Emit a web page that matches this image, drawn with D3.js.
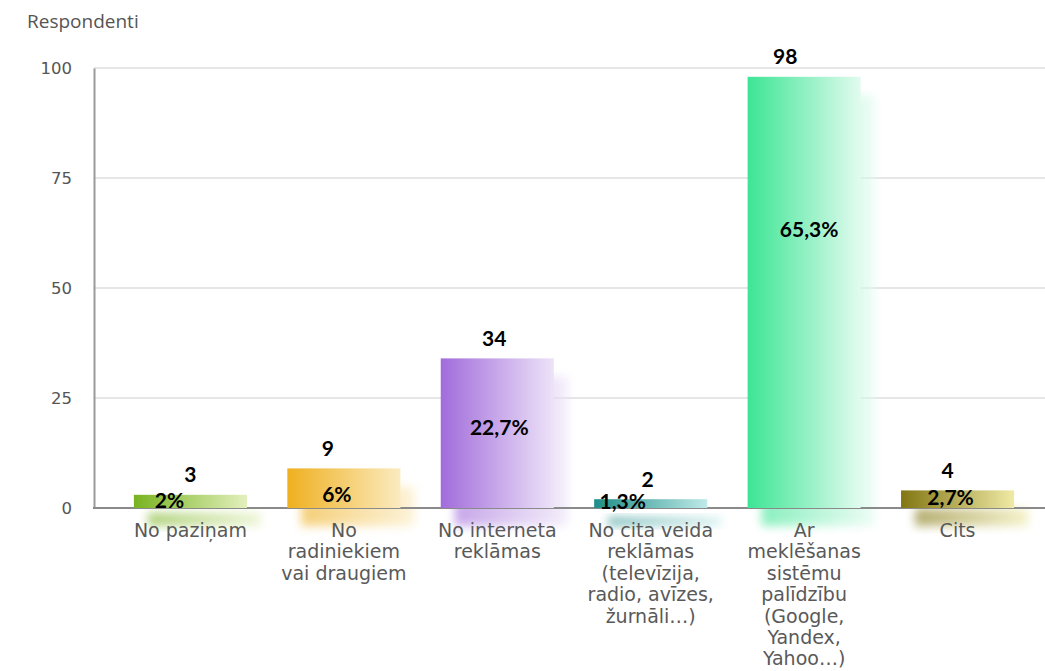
<!DOCTYPE html>
<html>
<head>
<meta charset="utf-8">
<script src="https://cdn.jsdelivr.net/npm/d3@7/dist/d3.min.js"></script>
<style>
  html, body { margin: 0; padding: 0; background: #ffffff; }
  svg { display: block; }
</style>
</head>
<body>
<svg id="chart" width="1045" height="671"></svg>
<script>
// Respondent answers: how did you find out about us
const categories = [
  "No paziņam",
  "No radiniekiem vai draugiem",
  "No interneta reklāmas",
  "No cita veida reklāmas (televīzija, radio, avīzes, žurnāli…)",
  "Ar meklēšanas sistēmu palīdzību (Google, Yandex, Yahoo…)",
  "Cits"
];
const categoryLines = [
  ["No paziņam"],
  ["No", "radiniekiem", "vai draugiem"],
  ["No interneta", "reklāmas"],
  ["No cita veida", "reklāmas", "(televīzija,", "radio, avīzes,", "žurnāli…)"],
  ["Ar", "meklēšanas", "sistēmu", "palīdzību", "(Google,", "Yandex,", "Yahoo…)"],
  ["Cits"]
];
const counts = [3, 9, 34, 2, 98, 4];
const percents = [2, 6, 22.7, 1.3, 65.3, 2.7];
const yTicks = [0, 25, 50, 75, 100];
const axisTitle = "Respondenti";

// gradient end colours for each bar (saturated left, pale right)
const colorsLeft  = ["#78b320", "#efb020", "#a16cdb", "#1e8d88", "#3ce594", "#827612"];
const colorsRight = ["#e3f0bd", "#fbebc0", "#ede3f8", "#bfeae8", "#e2fbef", "#efeaa6"];

// label nudges (px) and percent-label anchors (in axis units)
const valueDx = [0, -16, -3, -3, -19, -10];
const pctDx = [-21, -7, 2, -28, 5, -7];
const pctAnchor = [1.8, 3, 18.2, 1.6, 63.4, 2.5];

const svg = d3.select("#chart");
const W = 1045;

const x = d3.scaleBand()
  .domain(categories)
  .range([94, 1054])
  .paddingInner(0.263)
  .paddingOuter(0.26);

const y = d3.scaleLinear().domain([0, 100]).range([508, 68]);

const defs = svg.append("defs");
categories.forEach((c, i) => {
  const g = defs.append("linearGradient")
    .attr("id", "grad" + i)
    .attr("x1", "0%").attr("x2", "100%").attr("y1", "0%").attr("y2", "0%");
  g.append("stop").attr("offset", "0%").attr("stop-color", colorsLeft[i]);
  g.append("stop").attr("offset", "100%").attr("stop-color", colorsRight[i]);
});
const blur = defs.append("filter").attr("id", "soft")
  .attr("x", "-40%").attr("y", "-40%").attr("width", "180%").attr("height", "180%");
blur.append("feGaussianBlur").attr("stdDeviation", 5);

// horizontal gridlines
svg.append("g")
  .selectAll("line")
  .data(yTicks.filter(t => t > 0))
  .join("line")
  .attr("x1", 94).attr("x2", W)
  .attr("y1", d => y(d)).attr("y2", d => y(d))
  .attr("stroke", "#e6e6e6")
  .attr("stroke-width", 2);

// soft shadows behind bars
svg.append("g")
  .selectAll("rect")
  .data(counts)
  .join("rect")
  .attr("x", (d, i) => x(categories[i]) + 14)
  .attr("y", d => y(d) + 18)
  .attr("width", x.bandwidth())
  .attr("height", d => y(0) - y(d))
  .attr("fill", (d, i) => `url(#grad${i})`)
  .attr("opacity", 0.6)
  .attr("filter", "url(#soft)");

// y axis
const yAxis = d3.axisLeft(y).tickValues(yTicks).tickSize(0).tickPadding(22);
const ga = svg.append("g").attr("transform", "translate(94,0)").call(yAxis);
ga.select(".domain").attr("stroke", "#9a9a9a").attr("stroke-width", 2);
ga.selectAll("text")
  .attr("font-family", "DejaVu Sans, sans-serif")
  .attr("font-size", 16.5)
  .attr("fill", "#555555");

// baseline
svg.append("line")
  .attr("x1", 93).attr("x2", W)
  .attr("y1", y(0)).attr("y2", y(0))
  .attr("stroke", "#8a8a8a").attr("stroke-width", 2);

// bars
svg.append("g")
  .selectAll("rect")
  .data(counts)
  .join("rect")
  .attr("x", (d, i) => x(categories[i]))
  .attr("y", d => y(d))
  .attr("width", x.bandwidth())
  .attr("height", d => y(0) - y(d))
  .attr("fill", (d, i) => `url(#grad${i})`);

// axis title
svg.append("text")
  .attr("x", 27).attr("y", 28)
  .attr("font-family", "Open Sans, sans-serif")
  .attr("font-size", 19)
  .attr("fill", "#555555")
  .text(axisTitle);

// category labels
const catG = svg.append("g")
  .attr("font-family", "DejaVu Sans, sans-serif")
  .attr("font-size", 19)
  .attr("fill", "#595959")
  .attr("text-anchor", "middle");
categoryLines.forEach((lines, i) => {
  const cx = x(categories[i]) + x.bandwidth() / 2;
  const t = catG.append("text").attr("x", cx).attr("y", 537);
  lines.forEach((ln, k) => {
    t.append("tspan").attr("x", cx).attr("dy", k === 0 ? 0 : 21.4).text(ln);
  });
});

// value labels above bars
const fs = 21;
const fmtPct = d3.formatLocale({ decimal: ",", thousands: " ", grouping: [3], currency: ["", ""] }).format(".1~f");
svg.append("g")
  .attr("font-family", "Lato, sans-serif")
  .attr("font-weight", "bold")
  .attr("font-size", fs)
  .attr("fill", "#000000")
  .attr("text-anchor", "middle")
  .selectAll("text")
  .data(counts)
  .join("text")
  .attr("x", (d, i) => x(categories[i]) + x.bandwidth() / 2 + valueDx[i])
  .attr("y", d => y(d) - 20 + fs * 0.36)
  .text(d => d);

// percentage labels
svg.append("g")
  .attr("font-family", "Lato, sans-serif")
  .attr("font-weight", "bold")
  .attr("font-size", fs)
  .attr("fill", "#000000")
  .attr("text-anchor", "middle")
  .selectAll("text")
  .data(percents)
  .join("text")
  .attr("x", (d, i) => x(categories[i]) + x.bandwidth() / 2 + pctDx[i])
  .attr("y", (d, i) => y(pctAnchor[i]) + fs * 0.36)
  .text(d => fmtPct(d) + "%");
</script>
</body>
</html>
